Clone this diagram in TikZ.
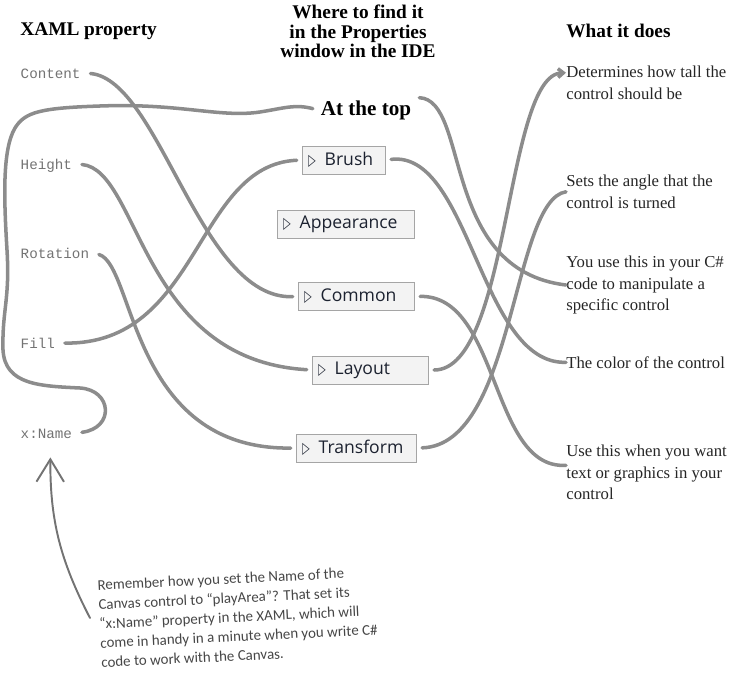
\documentclass[tikz,border=0pt]{standalone}
\usepackage{fontspec}
\setmainfont{Liberation Serif}
\setmonofont{Liberation Mono}
\newfontfamily\uifont{Open Sans}
\newfontfamily\handfont{Carlito}
\newfontfamily\symfont{DejaVu Sans}
\usetikzlibrary{arrows.meta}
\definecolor{linkgray}{RGB}{140,140,140}
\definecolor{propgray}{RGB}{115,115,115}
\definecolor{panelfill}{RGB}{243,243,243}
\definecolor{panelline}{RGB}{165,165,165}
\definecolor{paneltext}{RGB}{28,34,48}
\definecolor{notegray}{RGB}{70,70,70}
\newcommand{\expander}{{\symfont\scalebox{0.55}[0.9]{▷}}\hspace{5pt}}

\begin{document}
\begin{tikzpicture}[
  head/.style={inner sep=0pt, font=\fontsize{11}{11.1}\selectfont\bfseries},
  prop/.style={anchor=west, inner xsep=2.5pt, inner ysep=0pt, text=propgray,
    text height=1.5ex, text depth=0.25ex, font=\ttfamily\fontsize{8.1}{10}\selectfont},
  panel/.style={anchor=west, draw=panelline, fill=panelfill, line width=0.5pt,
    inner xsep=0.12cm, inner ysep=0pt, minimum height=0.56cm, align=left,
    text=paneltext, font=\uifont\fontsize{10}{12}\selectfont},
  desc/.style={anchor=north west, inner sep=0pt, align=left,
    font=\fontsize{9.5}{12}\selectfont, text=black!85},
  link/.style={draw=linkgray, line width=2pt, line cap=round}]
  \useasboundingbox (0,0) rectangle (14.580,13.500);

  % column heads
  \node[head, anchor=west] (hprop) at (0.400,12.880) {XAML property};
  \node[head, align=center] (hwhere) at (7.160,12.870) {Where to find it\\in the Properties\\window in the IDE};
  \node[head, anchor=west] (hwhat) at (11.320,12.880) {What it does};

  % XAML properties
  \node[prop] (content) at (0.320,12.040) {Content};
  \node[prop] (height) at (0.320,10.220) {Height};
  \node[prop] (rotation) at (0.320,8.440) {Rotation};
  \node[prop] (fill) at (0.320,6.640) {Fill};
  \node[prop] (xname) at (0.320,4.840) {x:Name};

  % Properties window
  \node[inner sep=1.5pt, font=\fontsize{12}{14}\selectfont\bfseries] (top) at (7.320,11.300) {At the top};
  \node[panel, text width=1.420cm] (brush) at (6.040,10.300) {\expander Brush};
  \node[panel, text width=2.500cm] (appearance) at (5.540,9.020) {\expander Appearance};
  \node[panel, text width=2.080cm] (common) at (5.960,7.570) {\expander Common};
  \node[panel, text width=2.080cm] (layout) at (6.240,6.100) {\expander Layout};
  \node[panel, text width=2.160cm] (transform) at (5.920,4.540) {\expander Transform};

  % what it does
  \node[desc] (tall) at (11.320,12.180) {Determines how tall the\\control should be};
  \node[desc] (angle) at (11.320,10.000) {Sets the angle that the\\control is turned};
  \node[desc] (code) at (11.320,8.380) {You use this in your C\#\\code to manipulate a\\specific control};
  \node[desc] (color) at (11.320,6.380) {The color of the control};
  \node[desc] (show) at (11.320,4.600) {Use this when you want\\text or graphics in your\\control};

  % left to middle
  \draw[link, shorten <=3pt, shorten >=3pt] (content.east) .. controls (3.200,11.900) and (4.000,7.500) .. (common.west);
  \draw[link, shorten <=3pt, shorten >=3pt] (height.east) .. controls (2.800,10.100) and (2.800,6.300) .. (layout.west);
  \draw[link, shorten <=3pt, shorten >=3pt] (rotation.east) .. controls (2.700,8.200) and (2.600,4.500) .. (transform.west);
  \draw[link, shorten <=3pt, shorten >=3pt] (fill.east) .. controls (4.000,6.600) and (3.900,10.200) .. (brush.west);
  \draw[link, shorten <=3pt, shorten >=3pt] (xname.east) .. controls (2.300,4.940) and (2.240,5.700) .. (1.600,5.740)
    .. controls (0.800,5.780) and (0.100,5.800) .. (0.060,6.500)
    .. controls (0.040,7.300) and (0.200,7.500) .. (0.140,8.500)
    .. controls (0.080,9.500) and (0.040,10.500) .. (0.300,10.940)
    .. controls (0.500,11.260) and (0.800,11.340) .. (2.000,11.380)
    .. controls (3.600,11.440) and (4.400,11.140) .. (5.200,11.260)
    .. controls (5.700,11.340) and (5.900,11.420) .. (top.west);

  % middle to right
  \draw[link, shorten <=3pt] (top.north east) .. controls (9.400,11.500) and (8.800,8.100) .. (code.west);
  \draw[link, shorten <=3pt] (brush.east) .. controls (9.400,10.500) and (9.600,6.200) .. (color.west);
  \draw[link, shorten <=3pt] (common.east) .. controls (10.000,7.600) and (9.800,4.100) .. ([yshift=0.14cm]show.west);
  \draw[link, shorten <=3pt, -{Straight Barb[length=3pt, width=5pt]}] (layout.east) .. controls (10.200,6.100) and (10.100,12.000) .. ([yshift=0.2cm]tall.west);
  \draw[link, shorten <=3pt] (transform.east) .. controls (10.300,4.600) and (10.240,9.500) .. (angle.west);

  % note
  \node[rotate=2.8, align=left, inner sep=1.5pt, text=notegray, font=\handfont\fontsize{8.5}{11}\selectfont] (note) at (4.760,1.160)
    {Remember how you set the Name of the\\Canvas control to “playArea”? That set its\\“x:Name” property in the XAML, which will\\come in handy in a minute when you write C\#\\code to work with the Canvas.};
  \coordinate (tail) at (1.800,1.140);
  \draw[draw=propgray, line width=1.1pt, line cap=round, -{Straight Barb[length=0.45cm, width=0.55cm]}]
    (tail) .. controls (1.200,2.300) and (1.000,3.100) .. ([xshift=0.08cm, yshift=-0.34cm]xname.south);
\end{tikzpicture}
\end{document}
